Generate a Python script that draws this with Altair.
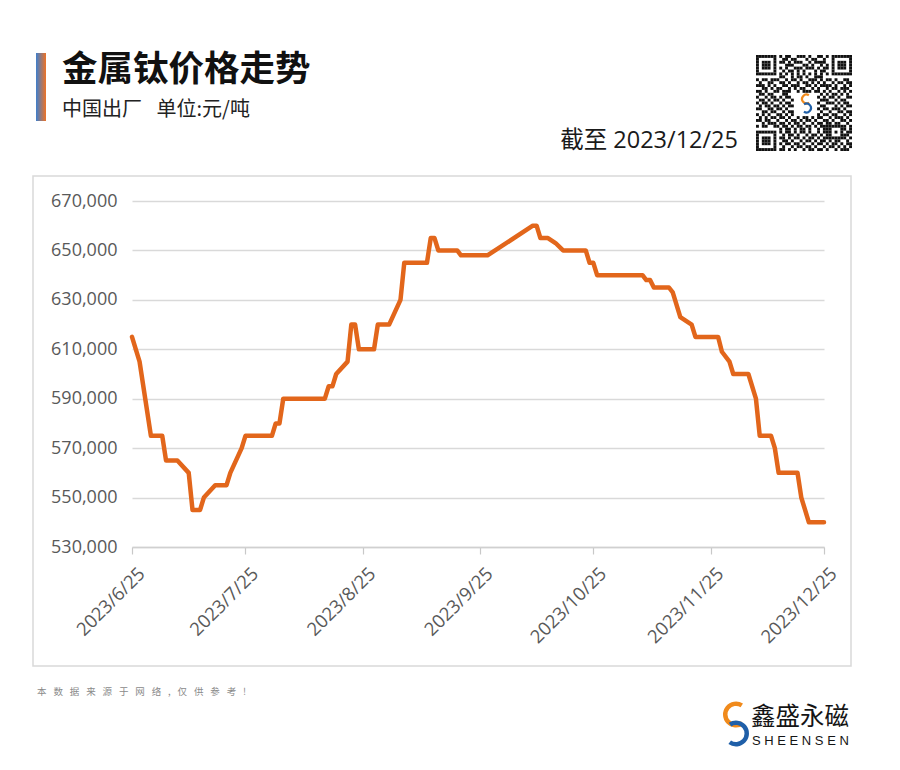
import altair as alt
import pandas as pd

# ---------------- data ----------------
dates = [
    "2023-06-25", "2023-06-27", "2023-06-30", "2023-07-03", "2023-07-04", "2023-07-07", "2023-07-10", "2023-07-11", "2023-07-13", "2023-07-14",
    "2023-07-17", "2023-07-20", "2023-07-21", "2023-07-24", "2023-07-25", "2023-08-01", "2023-08-02", "2023-08-03", "2023-08-04", "2023-08-15",
    "2023-08-16", "2023-08-17", "2023-08-18", "2023-08-21", "2023-08-22", "2023-08-23", "2023-08-24", "2023-08-28", "2023-08-29", "2023-09-01",
    "2023-09-04", "2023-09-05", "2023-09-11", "2023-09-12", "2023-09-13", "2023-09-14", "2023-09-19", "2023-09-20", "2023-09-27", "2023-10-09",
    "2023-10-10", "2023-10-11", "2023-10-13", "2023-10-15", "2023-10-17", "2023-10-23", "2023-10-24", "2023-10-25", "2023-10-26", "2023-11-07",
    "2023-11-08", "2023-11-09", "2023-11-10", "2023-11-14", "2023-11-15", "2023-11-17", "2023-11-20", "2023-11-21", "2023-11-27", "2023-11-28",
    "2023-11-30", "2023-12-01", "2023-12-05", "2023-12-07", "2023-12-08", "2023-12-11", "2023-12-12", "2023-12-13", "2023-12-18", "2023-12-19",
    "2023-12-21", "2023-12-25",
]
prices = [
    615000, 605000, 575000, 575000, 565000, 565000, 560000, 545000, 545000, 550000,
    555000, 555000, 560000, 570000, 575000, 575000, 580000, 580000, 590000, 590000,
    595000, 595000, 600000, 605000, 620000, 620000, 610000, 610000, 620000, 620000,
    630000, 645000, 645000, 655000, 655000, 650000, 650000, 648000, 648000, 660000,
    660000, 655000, 655000, 653000, 650000, 650000, 645000, 645000, 640000, 640000,
    638000, 638000, 635000, 635000, 633000, 623000, 620000, 615000, 615000, 609000,
    605000, 600000, 600000, 590000, 575000, 575000, 570000, 560000, 560000, 550000,
    540000, 540000,
]
x_tick_labels = ["2023/6/25", "2023/7/25", "2023/8/25", "2023/9/25", "2023/10/25", "2023/11/25", "2023/12/25"]
y_ticks = [530000, 550000, 570000, 590000, 610000, 630000, 650000, 670000]

title_text = "金属钛价格走势"
subtitle_text = "中国出厂\u00a0\u2002单位:元/吨"
asof_text = "截至 2023/12/25"
footer_chars = ["本", "数", "据", "来", "源", "于", "网", "络", ",", "仅", "供", "参", "考", "!"]
brand_cn = "鑫盛永磁"
brand_en = "S H E E N S E N"

# decorative QR-like pattern (hand typed)
qr_rows = [
    "111111101011001110100110101111111",
    "100000100110110001011001001000001",
    "101110101101011100101111001011101",
    "101110100011100011010010101011101",
    "101110101010011101110101101011101",
    "100000100101101010001011001000001",
    "111111101010101010101010101111111",
    "000000001100101101001110000000000",
    "101101110010110100111010110100110",
    "010011001101001011010101001011011",
    "111010100110111001101011110100101",
    "001101011001010110010100101101110",
    "110100110111001011101101010010101",
    "011011000110000000011010101101010",
    "100101101011011010110101011010011",
    "011010110100101101001011100101100",
    "101101001011010010110100111010110",
    "010110110101101101011011000101011",
    "110011011010010110100101101110100",
    "001101100101101001011010010011011",
    "101010011010110110101101101100101",
    "010101101101001011010110010111010",
    "110110010010110101101001101001101",
    "001011101101011010010110110110010",
    "101100110110101101101011111111101",
    "000000001011010110100101110001101",
    "111111101011010110100101110101011",
    "100000100101101001011010110001110",
    "101110101101011010110101111111101",
    "101110100110100101101011010110010",
    "101110101011011010010110101101011",
    "100000100100101101101001011010101",
    "111111101101010010110110100101110",
]

# ---------------- helpers ----------------
CJK = "Noto Sans CJK SC"
NUM = "Open Sans"


def text_layer(txt, x, y, size, color="#1a1a1a", weight="normal", align="left", font=CJK):
    return alt.Chart(pd.DataFrame({"t": [txt]})).mark_text(
        align=align, baseline="middle", fontSize=size, fontWeight=weight, color=color, font=font
    ).encode(x=alt.value(x), y=alt.value(y), text="t:N")


one = pd.DataFrame({"a": [0]})

# ---------------- main line ----------------
df = pd.DataFrame({"date": [d + "T00:00:00" for d in dates], "price": prices})


def to_dt(s):
    yy, mm, dd = s.split("/")
    return alt.DateTime(year=int(yy), month=int(mm), date=int(dd))


x_vals = [to_dt(s) for s in x_tick_labels]

line = alt.Chart(df).mark_line(color="#e2661b", strokeWidth=4.5, strokeJoin="round", strokeCap="round").encode(
    x=alt.X(
        "date:T",
        scale=alt.Scale(domain=[x_vals[0], x_vals[-1]]),
        axis=alt.Axis(
            values=x_vals, format="%Y/%-m/%d", labelAngle=-45, title=None, grid=False,
            domainColor="#d0d0d0", domainWidth=1.5, tickColor="#c8c8c8", tickSize=7, tickWidth=1.2,
            labelFont=NUM, labelFontSize=18.5, labelColor="#595959", labelPadding=10, labelOffset=3,
        ),
    ),
    y=alt.Y(
        "price:Q",
        scale=alt.Scale(domain=[y_ticks[0], y_ticks[-1]], nice=False, zero=False),
        axis=alt.Axis(
            values=y_ticks, format=",.0f", title=None, domain=False, ticks=False,
            gridColor="#d9d9d9", gridWidth=1.5,
            labelFont=NUM, labelFontSize=18, labelColor="#595959", labelPadding=15,
        ),
    ),
)

# ---------------- decorations ----------------
border = alt.Chart(one).mark_rect(fill="white", fillOpacity=0, stroke="#d9d9d9", strokeWidth=1.5).encode(
    x=alt.value(-99), x2=alt.value(719), y=alt.value(-25), y2=alt.value(465)
)

bar = alt.Chart(one).mark_rect(
    fill=alt.Gradient(
        gradient="linear",
        stops=[alt.GradientStop(color="#3f7fcc", offset=0), alt.GradientStop(color="#ee7326", offset=1)],
        x1=0, x2=1, y1=0, y2=0,
    )
).encode(x=alt.value(-96), x2=alt.value(-86), y=alt.value(-148), y2=alt.value(-80))

title = text_layer(title_text, -70, -131, 35.5, color="#111111", weight="bold")
subtitle = text_layer(subtitle_text, -70, -91, 20, color="#222222")
asof = text_layer(asof_text, 606, -60, 23.5, color="#1a1a1a", align="right", font=NUM + ", " + CJK)
footer = text_layer("\u2002\u00a0".join(footer_chars), -95, 491, 9.5, color="#8a8a8a")
brand1 = text_layer(brand_cn, 619, 517, 24.5, color="#151515")
brand2 = text_layer(brand_en, 620, 540, 13, color="#151515", font="Liberation Sans")

# QR-like block
N = len(qr_rows)
mod = 96.0 / N
cells = []
for r, row in enumerate(qr_rows):
    row = row.ljust(N, "0")[:N]
    for c, ch in enumerate(row):
        if ch == "1" and not (13 <= r <= 20 and 13 <= c <= 20):
            cells.append({"x": 624 + c * mod, "x2": 624 + (c + 1) * mod,
                          "y": -146 + r * mod, "y2": -146 + (r + 1) * mod})
qr = alt.Chart(pd.DataFrame(cells)).mark_rect(color="#111111").encode(
    x=alt.X("x:Q", scale=None, axis=None), x2="x2:Q",
    y=alt.Y("y:Q", scale=None, axis=None), y2="y2:Q",
)


def s_logo(cx, cy, r_out, r_in, gap):
    up = alt.Chart(one).mark_arc(color="#f08a1c", theta=2.5, theta2=6.85, radius=r_out, radius2=r_in).encode(
        x=alt.value(cx), y=alt.value(cy - gap)
    )
    lo = alt.Chart(one).mark_arc(color="#1f5fa8", theta=5.7, theta2=10.05, radius=r_out, radius2=r_in).encode(
        x=alt.value(cx), y=alt.value(cy + gap)
    )
    return [up, lo]


logo_main = s_logo(604, 523, 13, 8.5, 9.5)
logo_qr = s_logo(674.5, -97.5, 5.5, 3.3, 4.5)

chart = alt.layer(
    border, line, bar, title, subtitle, asof, footer, brand1, brand2, qr, *logo_main, *logo_qr
).properties(
    width=692, height=346,
    autosize=alt.AutoSizeParams(type="none"),
    padding={"left": 124, "top": 193, "right": 60, "bottom": 205},
    background="white",
).configure_view(stroke=None)

chart.save("out.html", embed_options={"renderer": "svg", "actions": False})
